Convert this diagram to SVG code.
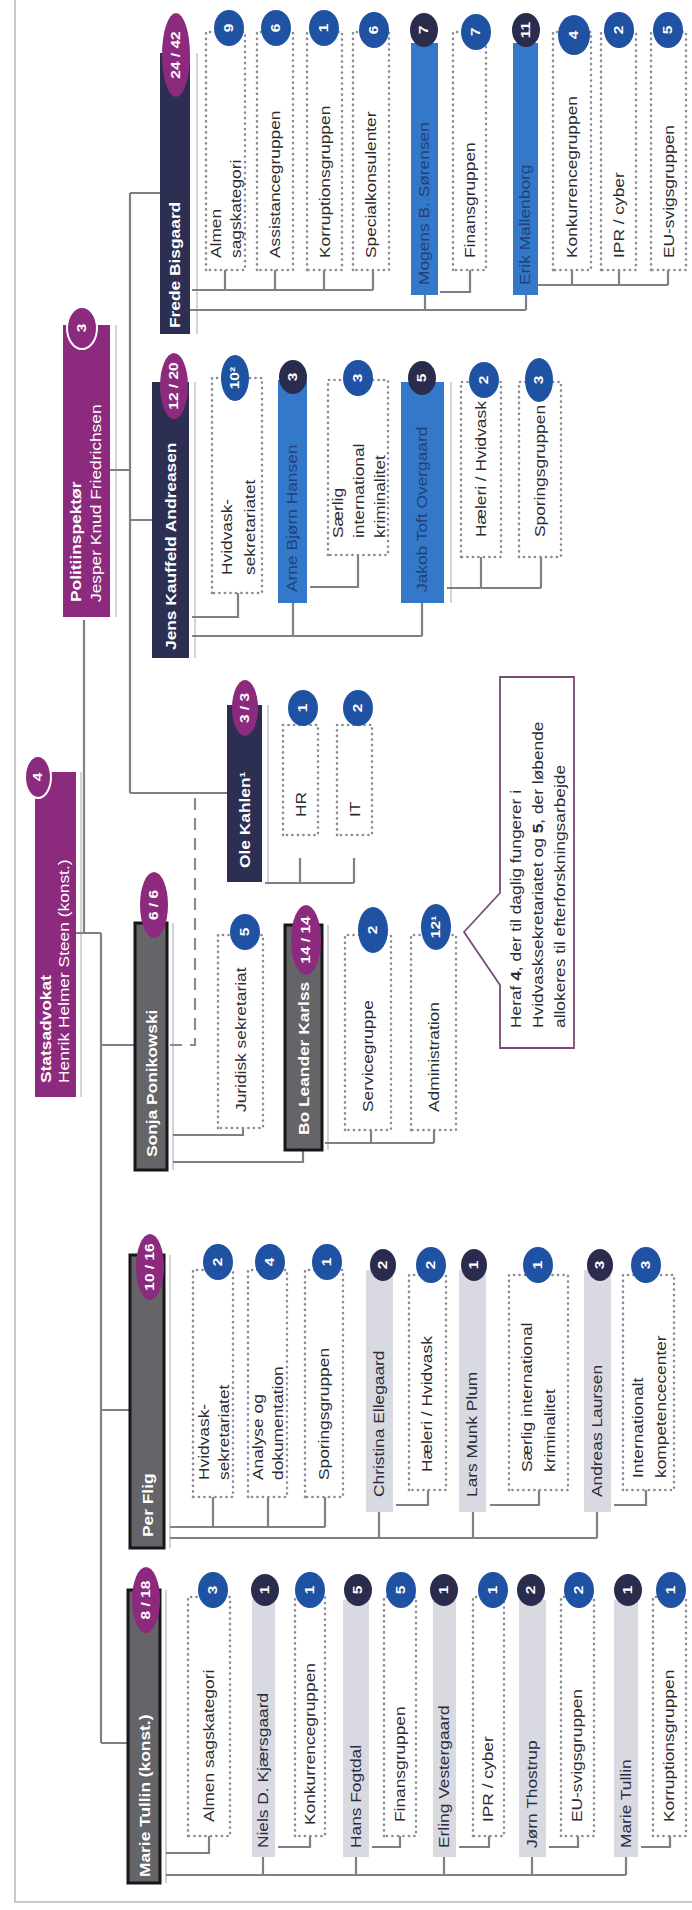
<svg xmlns="http://www.w3.org/2000/svg" width="692" height="1910" viewBox="0 0 692 1910">
<defs>
<style>
text{font-family:"Liberation Sans",Arial,sans-serif;font-size:14px;transform-box:fill-box;transform-origin:left center;transform:scaleX(1.24)}
.w{fill:#fff;font-weight:bold}
.wr{fill:#fff}
.t{fill:#2b2b30}
.lg{fill:#2a2c3e}
.bl{fill:#1d3263;opacity:.8}
.bt{fill:#fff;font-weight:bold;font-size:12.5px;text-anchor:middle;transform-origin:center}
.pu{fill:#8c2b7e}
.nv{fill:#2c2e52}
.bb{fill:#1f52a2}
.nb{fill:#2a2c4d}
.blue{fill:#3479c9}
.gr{fill:#646469;stroke:#17171a;stroke-width:3}
.lgb{fill:#d9dae1}
.d{fill:#fff;stroke:#8b8b93;stroke-width:2.6;stroke-dasharray:0.1 5.4;stroke-linecap:round}
.sh{stroke:#d2d3d9;stroke-width:2;fill:none}
.wo{stroke:#fff;stroke-width:2}
#connectors path{fill:none;stroke:#7f7f88;stroke-width:2.2}
#connectors path.dash{stroke-dasharray:12 8;stroke:#8a8a92}
</style>
</defs>
<rect width="692" height="1910" fill="#fff"/>
<rect x="15" y="-4" width="690" height="1906" fill="none" stroke="#c8c8cd" stroke-width="2"/>
<g transform="translate(0,1910) rotate(-90)">
<g id="shadows">
<line class="sh" x1="813" y1="81" x2="1138" y2="81"/>
<line class="sh" x1="1293" y1="116" x2="1585" y2="116"/>
<line class="sh" x1="1576" y1="197" x2="1857" y2="197"/>
<line class="sh" x1="1252" y1="195" x2="1528" y2="195"/>
<line class="sh" x1="1028" y1="268" x2="1205" y2="268"/>
<line class="sh" x1="740" y1="173" x2="987" y2="173"/>
<line class="sh" x1="760" y1="328" x2="985" y2="328"/>
<line class="sh" x1="362" y1="170" x2="655" y2="170"/>
<line class="sh" x1="27" y1="166" x2="320" y2="166"/>
<line class="sh" x1="1307" y1="451" x2="1528" y2="451"/>
</g>
<g id="connectors">
<path d="M1290,84 H977 M977,76 V101 M977,101 H167 M865,101 V135 M500,101 V130 M167,101 V128"/>
<path d="M1440,110 V130 M1717,130 H1117 M1717,130 V160 M1390,130 V152 M1117,130 V227"/>
<path d="M1620,192 V373 M1620,225 H1640 M1620,275 H1640 M1620,324 H1640 M1620,373 H1640"/>
<path d="M1600,190 V526 M1600,425 H1615 M1600,526 H1615"/>
<path d="M1618,440 V470 H1640"/>
<path d="M1625,538 V668 M1625,572 H1640 M1625,619 H1640 M1625,668 H1640"/>
<path d="M1293,192 V238 H1317"/>
<path d="M1274,192 V422 M1274,293 H1307 M1274,422 H1307"/>
<path d="M1323,310 V358 H1355"/>
<path d="M1322,447 V541 M1322,481 H1353 M1322,541 H1353"/>
<path d="M1027,265 V354 M1027,300 H1052 M1027,354 H1052"/>
<path class="dash" d="M865,170 V195 H1113"/>
<path d="M775,173 V243 H782"/>
<path d="M748,173 V303 H760"/>
<path d="M767,325 V434 M767,371 H780 M767,434 H780"/>
<path d="M383,170 V325 M383,213 H413 M383,268 H413 M383,325 H413"/>
<path d="M372,170 V597 M372,379 H398 M372,473 H398 M372,597 H398"/>
<path d="M405,396 V428 H420"/>
<path d="M405,490 V539 H420"/>
<path d="M405,614 V646 H420"/>
<path d="M57,166 V209 H74"/>
<path d="M35,166 V626 M35,263 H53 M35,356 H53 M35,444 H53 M35,532 H53 M35,626 H53"/>
<path d="M63,278 V310 H74"/>
<path d="M63,372 V400 H74"/>
<path d="M63,459 V489 H74"/>
<path d="M63,549 V578 H74"/>
<path d="M63,641 V670 H74"/>
</g>

<g id="statsadvokat">
<rect class="pu" x="813" y="35" width="325" height="41"/>
<text class="w" x="827" y="51">Statsadvokat</text>
<text class="wr" x="827" y="69">Henrik Helmer Steen (konst.)</text>
<ellipse class="pu wo" cx="1133" cy="38" rx="21" ry="13"/>
<text class="bt" x="1133" y="42.5">4</text>
</g>

<g id="politiinspektoer">
<rect class="pu" x="1293" y="63" width="292" height="47"/>
<text class="w" x="1308" y="81">Politiinspektør</text>
<text class="wr" x="1308" y="101">Jesper Knud Friedrichsen</text>
<ellipse class="pu wo" cx="1582" cy="82" rx="21" ry="15"/>
<text class="bt" x="1582" y="86.5">3</text>
</g>

<g id="frede">
<rect class="nv" x="1576" y="160" width="281" height="30"/>
<text class="w" x="1582" y="180">Frede Bisgaard</text>
<ellipse class="pu" cx="1855" cy="176" rx="42" ry="14"/>
<text class="bt" x="1855" y="180.5">24 / 42</text>
</g>
<g id="f-almen">
<rect class="d" x="1640" y="206" width="238" height="39"/>
<text class="t" x="1652" y="221">Almen</text>
<text class="t" x="1652" y="241">sagskategori</text>
<ellipse class="bb" cx="1882" cy="229" rx="18" ry="15"/>
<text class="bt" x="1882" y="233.5">9</text>
</g>
<g id="f-assistance">
<rect class="d" x="1640" y="257" width="238" height="36"/>
<text class="t" x="1652" y="280">Assistancegruppen</text>
<ellipse class="bb" cx="1882" cy="276" rx="18" ry="15"/>
<text class="bt" x="1882" y="280.5">6</text>
</g>
<g id="f-korruption">
<rect class="d" x="1640" y="307" width="238" height="35"/>
<text class="t" x="1652" y="330">Korruptionsgruppen</text>
<ellipse class="bb" cx="1882" cy="324" rx="18" ry="15"/>
<text class="bt" x="1882" y="328.5">1</text>
</g>
<g id="f-special">
<rect class="d" x="1640" y="353" width="238" height="36"/>
<text class="t" x="1652" y="376">Specialkonsulenter</text>
<ellipse class="bb" cx="1880" cy="374" rx="18" ry="15"/>
<text class="bt" x="1880" y="378.5">6</text>
</g>
<g id="mogens">
<rect class="blue" x="1615" y="411" width="252" height="27"/>
<text class="bl" x="1625" y="429.5">Mogens B. Sørensen</text>
<ellipse class="nb" cx="1880" cy="424" rx="17" ry="14"/>
<text class="bt" x="1880" y="428.5">7</text>
</g>
<g id="m-finans">
<rect class="d" x="1640" y="453" width="238" height="33"/>
<text class="t" x="1652" y="475">Finansgruppen</text>
<ellipse class="bb" cx="1878" cy="476" rx="18" ry="15"/>
<text class="bt" x="1878" y="480.5">7</text>
</g>
<g id="erik">
<rect class="blue" x="1615" y="513" width="252" height="25"/>
<text class="bl" x="1625" y="530.5">Erik Mallenborg</text>
<ellipse class="nb" cx="1880" cy="526" rx="17" ry="14"/>
<text class="bt" x="1880" y="530.5">11</text>
</g>
<g id="e-konkurrence">
<rect class="d" x="1640" y="553" width="238" height="38"/>
<text class="t" x="1652" y="577">Konkurrencegruppen</text>
<ellipse class="bb" cx="1875" cy="574" rx="20" ry="16"/>
<text class="bt" x="1875" y="578.5">4</text>
</g>
<g id="e-ipr">
<rect class="d" x="1640" y="601" width="238" height="35"/>
<text class="t" x="1652" y="624">IPR / cyber</text>
<ellipse class="bb" cx="1880" cy="619" rx="18" ry="15"/>
<text class="bt" x="1880" y="623.5">2</text>
</g>
<g id="e-eu">
<rect class="d" x="1640" y="651" width="238" height="35"/>
<text class="t" x="1652" y="674">EU-svigsgruppen</text>
<ellipse class="bb" cx="1880" cy="668" rx="18" ry="15"/>
<text class="bt" x="1880" y="672.5">5</text>
</g>

<g id="jens">
<rect class="nv" x="1252" y="152" width="276" height="37"/>
<text class="w" x="1260" y="176">Jens Kauffeld Andreasen</text>
<ellipse class="pu" cx="1524" cy="174" rx="33" ry="14"/>
<text class="bt" x="1524" y="178.5">12 / 20</text>
</g>
<g id="j-hvidvask">
<rect class="d" x="1317" y="212" width="215" height="50"/>
<text class="t" x="1335" y="232">Hvidvask-</text>
<text class="t" x="1335" y="255">sekretariatet</text>
<ellipse class="bb" cx="1532" cy="235" rx="23" ry="14"/>
<text class="bt" x="1532" y="239.5">10²</text>
</g>
<g id="arne">
<rect class="blue" x="1307" y="278" width="223" height="29"/>
<text class="bl" x="1318" y="297">Arne Bjørn Hansen</text>
<ellipse class="nb" cx="1533" cy="293" rx="17" ry="14"/>
<text class="bt" x="1533" y="297.5">3</text>
</g>
<g id="a-saerlig">
<rect class="d" x="1355" y="328" width="175" height="60"/>
<text class="t" x="1372" y="343">Særlig</text>
<text class="t" x="1372" y="364">international</text>
<text class="t" x="1372" y="385">kriminalitet</text>
<ellipse class="bb" cx="1532" cy="358" rx="18" ry="15"/>
<text class="bt" x="1532" y="362.5">3</text>
</g>
<g id="jakob">
<rect class="blue" x="1307" y="401" width="221" height="43"/>
<text class="bl" x="1318" y="427">Jakob Toft Overgaard</text>
<ellipse class="nb" cx="1532" cy="422" rx="17" ry="14"/>
<text class="bt" x="1532" y="426.5">5</text>
</g>
<g id="jk-haeleri">
<rect class="d" x="1353" y="461" width="175" height="40"/>
<text class="t" x="1373" y="486">Hæleri / Hvidvask</text>
<ellipse class="bb" cx="1530" cy="484" rx="18" ry="15"/>
<text class="bt" x="1530" y="488.5">2</text>
</g>
<g id="jk-sporing">
<rect class="d" x="1353" y="519" width="175" height="42"/>
<text class="t" x="1373" y="545">Sporingsgruppen</text>
<ellipse class="bb" cx="1530" cy="539" rx="22" ry="14"/>
<text class="bt" x="1530" y="543.5">3</text>
</g>

<g id="ole">
<rect class="nv" x="1028" y="227" width="177" height="35"/>
<text class="w" x="1042" y="250">Ole Kahlen¹</text>
<ellipse class="pu" cx="1202" cy="245" rx="28" ry="13"/>
<text class="bt" x="1202" y="249.5">3 / 3</text>
</g>
<g id="o-hr">
<rect class="d" x="1075" y="283" width="110" height="35"/>
<text class="t" x="1093" y="306">HR</text>
<ellipse class="bb" cx="1202" cy="303" rx="18" ry="15"/>
<text class="bt" x="1202" y="307.5">1</text>
</g>
<g id="o-it">
<rect class="d" x="1075" y="337" width="110" height="35"/>
<text class="t" x="1093" y="360">IT</text>
<ellipse class="bb" cx="1202" cy="358" rx="18" ry="15"/>
<text class="bt" x="1202" y="362.5">2</text>
</g>

<g id="sonja">
<rect class="gr" x="740" y="135" width="247" height="32"/>
<text class="w" x="753" y="157">Sonja Ponikowski</text>
<ellipse class="pu" cx="1005" cy="154" rx="33" ry="14"/>
<text class="bt" x="1005" y="158.5">6 / 6</text>
</g>
<g id="s-juridisk">
<rect class="d" x="782" y="218" width="193" height="45"/>
<text class="t" x="798" y="246">Juridisk sekretariat</text>
<ellipse class="bb" cx="978" cy="245" rx="18" ry="15"/>
<text class="bt" x="978" y="249.5">5</text>
</g>
<g id="bo">
<rect class="gr" x="760" y="285" width="225" height="37"/>
<text class="w" x="775" y="309">Bo Leander Karlss</text>
<ellipse class="pu" cx="970" cy="306" rx="35" ry="15"/>
<text class="bt" x="970" y="310.5">14 / 14</text>
</g>
<g id="b-service">
<rect class="d" x="780" y="345" width="195" height="46"/>
<text class="t" x="798" y="373">Servicegruppe</text>
<ellipse class="bb" cx="980" cy="373" rx="23" ry="15"/>
<text class="bt" x="980" y="377.5">2</text>
</g>
<g id="b-admin">
<rect class="d" x="780" y="411" width="195" height="45"/>
<text class="t" x="798" y="439">Administration</text>
<ellipse class="bb" cx="983" cy="436" rx="23" ry="15"/>
<text class="bt" x="983" y="440.5">12¹</text>
</g>

<g id="callout">
<path d="M862,500 H925 L978,464 L1017,500 H1233 V574 H862 Z" fill="#fff" stroke="#7a4a78" stroke-width="1.8"/>
<text class="t" x="882" y="521">Heraf <tspan font-weight="bold">4</tspan>, der til daglig fungerer i</text>
<text class="t" x="882" y="543">Hvidvasksekretariatet og <tspan font-weight="bold">5</tspan>, der løbende</text>
<text class="t" x="882" y="565">allokeres til efterforskningsarbejde</text>
</g>

<g id="per">
<rect class="gr" x="362" y="130" width="293" height="34"/>
<text class="w" x="373" y="153">Per Flig</text>
<ellipse class="pu" cx="643" cy="150" rx="33" ry="14"/>
<text class="bt" x="643" y="154.5">10 / 16</text>
</g>
<g id="p-hvidvask">
<rect class="d" x="413" y="193" width="227" height="40"/>
<text class="t" x="430" y="209">Hvidvask-</text>
<text class="t" x="430" y="229">sekretariatet</text>
<ellipse class="bb" cx="648" cy="218" rx="18" ry="15"/>
<text class="bt" x="648" y="222.5">2</text>
</g>
<g id="p-analyse">
<rect class="d" x="413" y="248" width="227" height="39"/>
<text class="t" x="430" y="263">Analyse og</text>
<text class="t" x="430" y="283">dokumentation</text>
<ellipse class="bb" cx="648" cy="270" rx="18" ry="15"/>
<text class="bt" x="648" y="274.5">4</text>
</g>
<g id="p-sporing">
<rect class="d" x="413" y="305" width="227" height="38"/>
<text class="t" x="430" y="329">Sporingsgruppen</text>
<ellipse class="bb" cx="648" cy="327" rx="18" ry="15"/>
<text class="bt" x="648" y="331.5">1</text>
</g>
<g id="christina">
<rect class="lgb" x="398" y="366" width="242" height="27"/>
<text class="lg" x="413" y="384.5">Christina Ellegaard</text>
<ellipse class="nb" cx="645" cy="383" rx="16" ry="13"/>
<text class="bt" x="645" y="387.5">2</text>
</g>
<g id="c-haeleri">
<rect class="d" x="420" y="409" width="215" height="37"/>
<text class="t" x="438" y="432">Hæleri / Hvidvask</text>
<ellipse class="bb" cx="645" cy="431" rx="18" ry="15"/>
<text class="bt" x="645" y="435.5">2</text>
</g>
<g id="lars">
<rect class="lgb" x="398" y="459" width="242" height="27"/>
<text class="lg" x="413" y="477.5">Lars Munk Plum</text>
<ellipse class="nb" cx="645" cy="474" rx="16" ry="13"/>
<text class="bt" x="645" y="478.5">1</text>
</g>
<g id="l-saerlig">
<rect class="d" x="420" y="509" width="215" height="59"/>
<text class="t" x="438" y="532">Særlig international</text>
<text class="t" x="438" y="555">kriminalitet</text>
<ellipse class="bb" cx="645" cy="538" rx="18" ry="15"/>
<text class="bt" x="645" y="542.5">1</text>
</g>
<g id="andreas">
<rect class="lgb" x="398" y="584" width="242" height="27"/>
<text class="lg" x="413" y="602.5">Andreas Laursen</text>
<ellipse class="nb" cx="645" cy="600" rx="16" ry="13"/>
<text class="bt" x="645" y="604.5">3</text>
</g>
<g id="a-internationalt">
<rect class="d" x="420" y="623" width="215" height="51"/>
<text class="t" x="432" y="643">Internationalt</text>
<text class="t" x="432" y="666">kompetencecenter</text>
<ellipse class="bb" cx="645" cy="646" rx="18" ry="15"/>
<text class="bt" x="645" y="650.5">3</text>
</g>

<g id="marie-konst">
<rect class="gr" x="27" y="128" width="293" height="32"/>
<text class="w" x="33" y="150">Marie Tullin (konst.)</text>
<ellipse class="pu" cx="310" cy="146" rx="33" ry="14"/>
<text class="bt" x="310" y="150.5">8 / 18</text>
</g>
<g id="m-almen">
<rect class="d" x="74" y="188" width="239" height="42"/>
<text class="t" x="88" y="214">Almen sagskategori</text>
<ellipse class="bb" cx="320" cy="213" rx="18" ry="15"/>
<text class="bt" x="320" y="217.5">3</text>
</g>
<g id="niels">
<rect class="lgb" x="53" y="252" width="257" height="23"/>
<text class="lg" x="62" y="268.5">Niels D. Kjærsgaard</text>
<ellipse class="nb" cx="320" cy="265" rx="16" ry="14"/>
<text class="bt" x="320" y="269.5">1</text>
</g>
<g id="n-konkurrence">
<rect class="d" x="74" y="295" width="239" height="30"/>
<text class="t" x="85" y="315">Konkurrencegruppen</text>
<ellipse class="bb" cx="320" cy="310" rx="18" ry="15"/>
<text class="bt" x="320" y="314.5">1</text>
</g>
<g id="hans">
<rect class="lgb" x="53" y="343" width="257" height="26"/>
<text class="lg" x="62" y="361">Hans Fogtdal</text>
<ellipse class="nb" cx="320" cy="358" rx="16" ry="14"/>
<text class="bt" x="320" y="362.5">5</text>
</g>
<g id="h-finans">
<rect class="d" x="74" y="384" width="239" height="32"/>
<text class="t" x="88" y="405">Finansgruppen</text>
<ellipse class="bb" cx="320" cy="401" rx="18" ry="15"/>
<text class="bt" x="320" y="405.5">5</text>
</g>
<g id="erling">
<rect class="lgb" x="53" y="433" width="257" height="23"/>
<text class="lg" x="62" y="449.5">Erling Vestergaard</text>
<ellipse class="nb" cx="320" cy="444" rx="16" ry="14"/>
<text class="bt" x="320" y="448.5">1</text>
</g>
<g id="er-ipr">
<rect class="d" x="74" y="473" width="239" height="31"/>
<text class="t" x="88" y="493">IPR / cyber</text>
<ellipse class="bb" cx="320" cy="493" rx="18" ry="15"/>
<text class="bt" x="320" y="497.5">1</text>
</g>
<g id="joern">
<rect class="lgb" x="53" y="519" width="257" height="27"/>
<text class="lg" x="62" y="537.5">Jørn Thostrup</text>
<ellipse class="nb" cx="320" cy="531" rx="16" ry="14"/>
<text class="bt" x="320" y="535.5">2</text>
</g>
<g id="jo-eu">
<rect class="d" x="74" y="561" width="239" height="33"/>
<text class="t" x="88" y="582">EU-svigsgruppen</text>
<ellipse class="bb" cx="320" cy="579" rx="18" ry="15"/>
<text class="bt" x="320" y="583.5">2</text>
</g>
<g id="marie">
<rect class="lgb" x="53" y="614" width="257" height="24"/>
<text class="lg" x="62" y="631">Marie Tullin</text>
<ellipse class="nb" cx="320" cy="628" rx="16" ry="14"/>
<text class="bt" x="320" y="632.5">1</text>
</g>
<g id="ma-korruption">
<rect class="d" x="74" y="653" width="239" height="33"/>
<text class="t" x="88" y="674">Korruptionsgruppen</text>
<ellipse class="bb" cx="320" cy="671" rx="18" ry="15"/>
<text class="bt" x="320" y="675.5">1</text>
</g>
</g>
</svg>
